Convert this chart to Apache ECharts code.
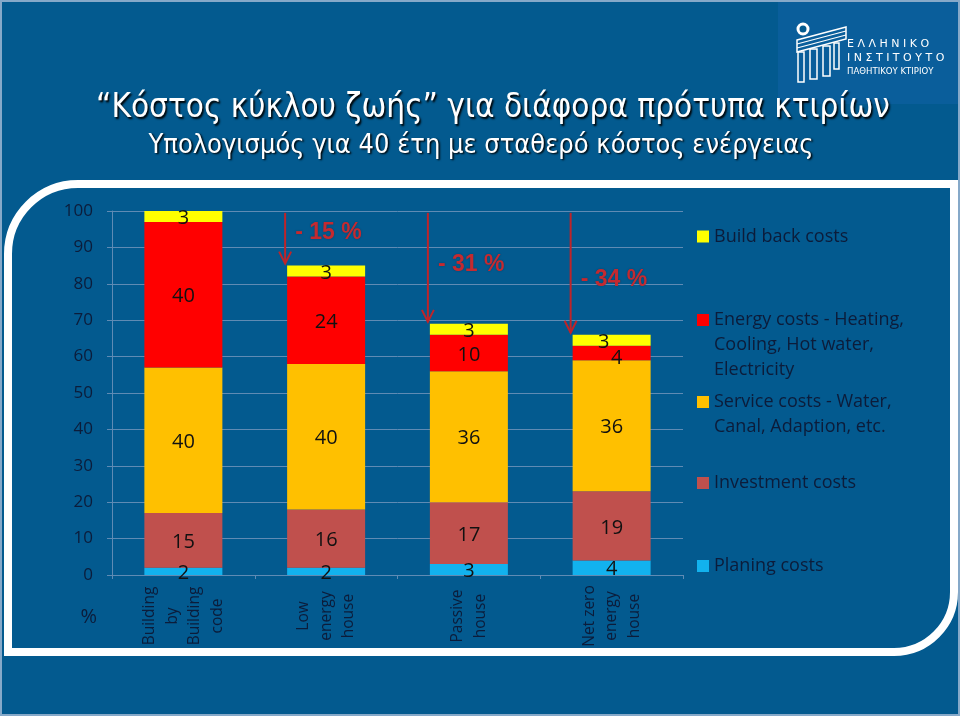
<!DOCTYPE html>
<html>
<head>
<meta charset="utf-8">
<script src="https://cdn.jsdelivr.net/npm/echarts@6/dist/echarts.min.js"></script>
<style>html,body{margin:0;padding:0;background:#035a8f;}#c{width:960px;height:716px;}</style>
</head>
<body>
<div id="c"></div>
<script>
// ---- data ----
const categories = ['Building\nby\nBuilding\ncode', 'Low\nenergy\nhouse', 'Passive\nhouse', 'Net zero\nenergy\nhouse'];
const planingCosts = [2, 2, 3, 4];
const investmentCosts = [15, 16, 17, 19];
const serviceCosts = [40, 40, 36, 36];
const energyCosts = [40, 24, 10, 4];
const buildBackCosts = [3, 3, 3, 3];
const yMin = 0, yMax = 100, yStep = 10;
const titleText = '“Κόστος κύκλου ζωής” για διάφορα πρότυπα κτιρίων';
const subtitleText = 'Υπολογισμός για 40 έτη με σταθερό κόστος ενέργειας';

// ---- styles ----
const BG = '#035a8f';
const TXT = '#0c1c3a';
const GRID = '#5f8bb4';
const FONT = '"Open Sans", "Noto Sans", sans-serif';
const NARROW = '"Liberation Sans Narrow", "DejaVu Sans Condensed", "Liberation Sans", sans-serif';
const BAR_W = 78;

const seriesDefs = [
  { name: 'Planing costs', data: planingCosts, color: '#12b2ee', legend: ['Planing costs'], iconY: 566 },
  { name: 'Investment costs', data: investmentCosts, color: '#c0504d', legend: ['Investment costs'], iconY: 483 },
  { name: 'Service costs', data: serviceCosts, color: '#ffc000', legend: ['Service costs - Water,', 'Canal, Adaption, etc.'], iconY: 402 },
  { name: 'Energy costs', data: energyCosts, color: '#ff0000', legend: ['Energy costs - Heating,', 'Cooling, Hot water,', 'Electricity'], iconY: 320 },
  { name: 'Build back costs', data: buildBackCosts, color: '#ffff00', legend: ['Build back costs'], iconY: 236.5 }
];
// label nudges for crowded small segments (series index -> data index -> offset)
const labelNudge = { 3: { 3: [5, 5] }, 4: { 3: [-8, 2] } };

const LH = 25;
const legends = seriesDefs.map(function (s) {
  const n = s.legend.length;
  const pad = new Array(n).fill('').slice(1).join('\n');
  const txt = (n > 1 ? pad + '\n' : '') + s.legend.join('\n');
  return {
    data: [s.name],
    left: 697,
    top: s.iconY - (2 * n - 1) * LH / 2,
    padding: 0,
    orient: 'vertical',
    icon: 'rect',
    itemWidth: 12,
    itemHeight: 12,
    selectedMode: false,
    formatter: function () { return txt; },
    textStyle: { color: TXT, fontSize: 18, fontFamily: FONT, lineHeight: LH }
  };
});

const series = seriesDefs.map(function (s, si) {
  return {
    name: s.name,
    type: 'bar',
    stack: 'total',
    barWidth: BAR_W,
    itemStyle: { color: s.color },
    data: s.data.map(function (v, di) {
      const item = { value: v };
      if (labelNudge[si] && labelNudge[si][di]) item.label = { offset: labelNudge[si][di] };
      return item;
    }),
    label: {
      show: true, position: 'inside', color: '#111', fontSize: 20, fontFamily: FONT, offset: [0, 2]
    },
    emphasis: { disabled: true }
  };
});

const chart = echarts.init(document.getElementById('c'), null, { renderer: 'canvas' });

const option = {
  backgroundColor: BG,
  animation: false,
  title: [
    { text: titleText, left: 488, top: 87, textAlign: 'center',
      textStyle: { color: '#fff', fontSize: 33, fontWeight: 'normal', fontFamily: NARROW,
        textShadowColor: '#000', textShadowBlur: 2, textShadowOffsetX: 1.5, textShadowOffsetY: 1.5 } },
    { text: subtitleText, left: 476, top: 127, textAlign: 'center',
      textStyle: { color: '#fff', fontSize: 27, fontWeight: 'normal', fontFamily: NARROW,
        textShadowColor: '#000', textShadowBlur: 2, textShadowOffsetX: 1.5, textShadowOffsetY: 1.5 } }
  ],
  legend: legends,
  grid: { left: 112, right: 277, top: 211, bottom: 141, containLabel: false },
  xAxis: {
    type: 'category',
    data: categories,
    axisLine: { show: true, lineStyle: { color: GRID, width: 1 } },
    axisTick: { show: true, length: 4, lineStyle: { color: GRID } },
    axisLabel: {
      interval: 0, rotate: 90, align: 'center', verticalAlign: 'middle', margin: 41,
      color: TXT, fontSize: 15.5, lineHeight: 22.5, fontFamily: FONT
    }
  },
  yAxis: {
    type: 'value', min: yMin, max: yMax, interval: yStep,
    name: '%', nameLocation: 'start', nameGap: 32,
    nameTextStyle: { color: TXT, fontSize: 20, fontFamily: FONT, align: 'right', padding: [0, 15, 0, 0] },
    axisLine: { show: true, lineStyle: { color: GRID } },
    axisTick: { show: true, length: 5, lineStyle: { color: GRID } },
    splitLine: { show: true, lineStyle: { color: GRID, width: 1 } },
    axisLabel: { color: TXT, fontSize: 17, fontFamily: FONT, margin: 19 }
  },
  series: series
};
chart.setOption(option);

// ---- annotations: reduction arrows computed from the stacked totals ----
const totals = categories.map(function (_, i) {
  return seriesDefs.reduce(function (acc, s) { return acc + s.data[i]; }, 0);
});
const textDy = [-31, -57, -53]; // text vertical position relative to arrow tip
const graphics = [];
const RED = '#bf2429';
for (let i = 1; i < categories.length; i++) {
  const top = chart.convertToPixel({ gridIndex: 0 }, [i, yMax - 0.5]);
  const tip = chart.convertToPixel({ gridIndex: 0 }, [i, totals[i]]);
  const x = tip[0] - BAR_W / 2 - 2;
  const y1 = top[1];
  const y2 = tip[1] - 2;
  graphics.push({ type: 'line', z: 50, shape: { x1: x, y1: y1, x2: x, y2: y2 }, style: { stroke: RED, lineWidth: 2 } });
  graphics.push({ type: 'polyline', z: 50, shape: { points: [[x - 6, y2 - 12], [x, y2], [x + 6, y2 - 12]] }, style: { stroke: RED, lineWidth: 2, fill: null } });
  const pct = Math.round((totals[i] - totals[0]) / totals[0] * 100);
  graphics.push({ type: 'text', z: 50, x: x + 10, y: y2 + textDy[i - 1],
    style: { text: '- ' + Math.abs(pct) + ' %', fill: '#c42a30', font: 'bold 23px "Liberation Sans", Arial, sans-serif',
      textVerticalAlign: 'middle', textShadowColor: 'rgba(0,0,0,0.25)', textShadowBlur: 2 } });
}
// frame (white rounded border)
const FW = { stroke: '#ffffff', lineWidth: 8, fill: null };
graphics.push({ type: 'line', z: 100, silent: true, shape: { x1: 8, y1: 656, x2: 8, y2: 254 }, style: FW });
graphics.push({ type: 'arc', z: 100, silent: true, shape: { cx: 78, cy: 254, r: 70, startAngle: Math.PI, endAngle: Math.PI * 1.5, clockwise: true }, style: FW });
graphics.push({ type: 'line', z: 100, silent: true, shape: { x1: 78, y1: 184, x2: 958, y2: 184 }, style: FW });
graphics.push({ type: 'line', z: 100, silent: true, shape: { x1: 954, y1: 180, x2: 954, y2: 592 }, style: FW });
graphics.push({ type: 'arc', z: 100, silent: true, shape: { cx: 894, cy: 592, r: 60, startAngle: 0, endAngle: Math.PI * 0.5, clockwise: true }, style: FW });
graphics.push({ type: 'line', z: 100, silent: true, shape: { x1: 894, y1: 652, x2: 4, y2: 652 }, style: FW });
// slide edge
graphics.push({ type: 'rect', z: 100, silent: true, shape: { x: 1, y: 1, width: 958, height: 714 },
  style: { stroke: '#86a9c9', lineWidth: 2, fill: null } });
// logo
const W = '#fff';
const logo = { type: 'group', x: 778, y: 0, z: 90, children: [
  { type: 'rect', shape: { x: 0, y: 0, width: 182, height: 104 }, style: { fill: '#0a5e9b' } },
  { type: 'circle', shape: { cx: 25, cy: 29, r: 5 }, style: { fill: BG, stroke: W, lineWidth: 3 } },
  { type: 'polygon', shape: { points: [[19, 40], [68, 27], [68, 39], [19, 52]] }, style: { fill: null, stroke: W, lineWidth: 1.5 } },
  { type: 'line', shape: { x1: 19, y1: 44, x2: 68, y2: 31 }, style: { stroke: W, lineWidth: 1.2 } },
  { type: 'line', shape: { x1: 19, y1: 48, x2: 68, y2: 35 }, style: { stroke: W, lineWidth: 1.2 } },
  { type: 'rect', shape: { x: 20, y: 52, width: 6, height: 30 }, style: { fill: null, stroke: W, lineWidth: 1.5 } },
  { type: 'rect', shape: { x: 32, y: 49, width: 7, height: 30 }, style: { fill: null, stroke: W, lineWidth: 1.5 } },
  { type: 'rect', shape: { x: 45, y: 46, width: 7, height: 30 }, style: { fill: null, stroke: W, lineWidth: 1.5 } },
  { type: 'rect', shape: { x: 56, y: 43, width: 5, height: 26 }, style: { fill: null, stroke: W, lineWidth: 1.5 } },
  { type: 'text', x: 69, y: 44, style: { text: 'Ε Λ Λ Η Ν Ι Κ Ο', fill: W, font: '11px "DejaVu Sans", sans-serif', textVerticalAlign: 'middle' } },
  { type: 'text', x: 69, y: 58, style: { text: 'Ι Ν Σ Τ Ι Τ Ο Υ Τ Ο', fill: W, font: '11px "DejaVu Sans", sans-serif', textVerticalAlign: 'middle' } },
  { type: 'text', x: 69, y: 72, style: { text: 'ΠΑΘΗΤΙΚΟΥ ΚΤΙΡΙΟΥ', fill: W, font: '9.5px "DejaVu Sans Condensed", "Liberation Sans Narrow", sans-serif', textVerticalAlign: 'middle' } }
] };
graphics.push(logo);
chart.setOption({ graphic: graphics });
</script>
</body>
</html>
